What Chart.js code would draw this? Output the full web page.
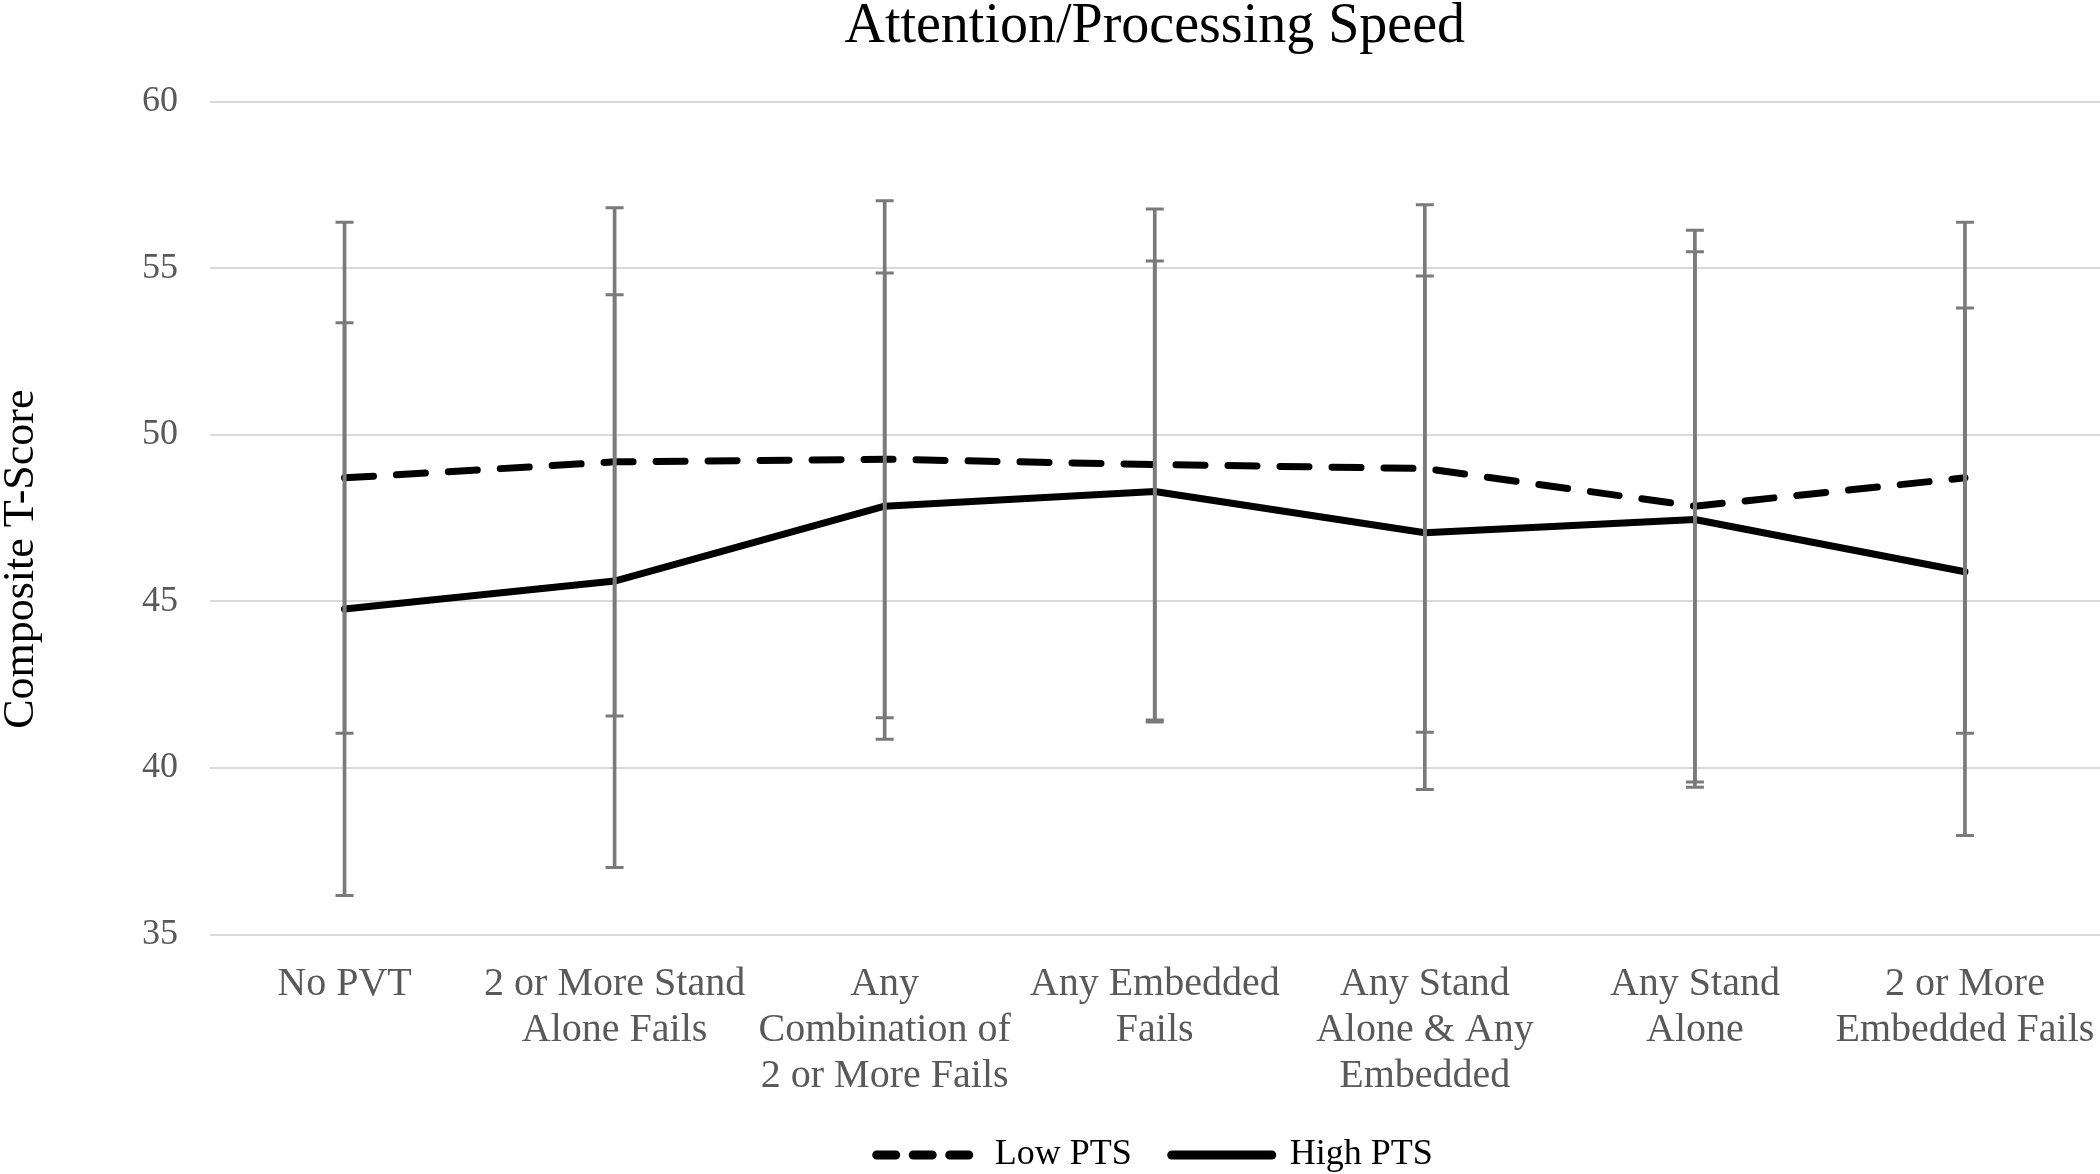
<!DOCTYPE html>
<html>
<head>
<meta charset="utf-8">
<script src="https://cdn.jsdelivr.net/npm/chart.js@4/dist/chart.umd.min.js"></script>
<style>
  html, body { margin: 0; padding: 0; background: #ffffff; }
  #wrap { width: 2100px; height: 1174px; position: relative; }
</style>
</head>
<body>
<div id="wrap"><canvas id="c" width="2100" height="1174"></canvas></div>
<script>
// ---------- data ----------
const categories = [
  'No PVT',
  ['2 or More Stand', 'Alone Fails'],
  ['Any', 'Combination of', '2 or More Fails'],
  ['Any Embedded', 'Fails'],
  ['Any Stand', 'Alone & Any', 'Embedded'],
  ['Any Stand', 'Alone'],
  ['2 or More', 'Embedded Fails']
];
const seriesNames = ['Low PTS', 'High PTS'];
const lowPTS  = [48.71, 49.19, 49.27, 49.11, 48.99, 47.86, 48.71];
const highPTS = [44.77, 45.61, 47.86, 48.30, 47.06, 47.46, 45.89];
const lowErr  = [7.67, 7.63, 7.76, 7.67, 7.92, 8.28, 7.67];
const highErr = [8.60, 8.60, 7.00, 6.92, 7.71, 8.04, 7.92];
const chartTitle = 'Attention/Processing Speed';
const yAxisTitle = 'Composite T-Score';
const yMin = 35, yMax = 60, yStep = 5;

// ---------- styling ----------
const FONT = "'Liberation Serif', 'Times New Roman', serif";
const ERR = '#7a7a7a';
const TXT = '#595959';

const lowBars  = lowPTS.map((m, i) => [m - lowErr[i], m + lowErr[i]]);
const highBars = highPTS.map((m, i) => [m - highErr[i], m + highErr[i]]);
const lowTop  = lowPTS.map((m, i) => m + lowErr[i]);
const lowBot  = lowPTS.map((m, i) => m - lowErr[i]);
const highTop = highPTS.map((m, i) => m + highErr[i]);
const highBot = highPTS.map((m, i) => m - highErr[i]);

function capSet(data) {
  return {
    type: 'line', label: '_cap', data: data, showLine: false,
    pointStyle: 'line', pointRadius: 9, pointHoverRadius: 9,
    pointBorderWidth: 3, pointBorderColor: ERR, pointBackgroundColor: ERR,
    order: 1
  };
}
function whiskerSet(data) {
  return {
    type: 'bar', label: '_whisker', data: data, backgroundColor: ERR,
    borderWidth: 0, barThickness: 3, grouped: false, order: 1
  };
}

const yTitlePlugin = {
  id: 'yTitle',
  afterDraw(chart) {
    const { ctx, chartArea } = chart;
    ctx.save();
    ctx.translate(21, (chartArea.top + chartArea.bottom) / 2 + 41);
    ctx.rotate(-Math.PI / 2);
    ctx.fillStyle = '#000000';
    ctx.font = "44px " + FONT;
    ctx.textAlign = 'center';
    ctx.textBaseline = 'middle';
    ctx.fillText(yAxisTitle, 0, 0);
    ctx.restore();
  }
};

new Chart(document.getElementById('c'), {
  type: 'line',
  data: {
    labels: categories,
    datasets: [
      {
        label: seriesNames[0], data: lowPTS, borderColor: '#000', backgroundColor: '#000',
        borderWidth: 7, borderDash: [29, 23], borderCapStyle: 'round', borderJoinStyle: 'round',
        pointRadius: 0, pointHoverRadius: 0, fill: false, tension: 0, order: 2
      },
      {
        label: seriesNames[1], data: highPTS, borderColor: '#000', backgroundColor: '#000',
        borderWidth: 7, borderCapStyle: 'round', borderJoinStyle: 'round',
        pointRadius: 0, pointHoverRadius: 0, fill: false, tension: 0, order: 2
      },
      whiskerSet(lowBars),
      whiskerSet(highBars),
      capSet(lowTop), capSet(lowBot), capSet(highTop), capSet(highBot)
    ]
  },
  options: {
    responsive: false,
    animation: false,
    devicePixelRatio: 1,
    layout: { autoPadding: false, padding: { left: 0, right: 0, top: 0, bottom: -9 } },
    plugins: {
      title: {
        display: true, text: chartTitle, color: '#000', fullSize: false,
        font: { family: FONT, size: 56, weight: 'normal', lineHeight: 0.8 },
        padding: { top: 5, bottom: 52 }
      },
      legend: {
        position: 'bottom', fullSize: false,
        labels: {
          usePointStyle: true, pointStyleWidth: 100, padding: 40, color: '#000',
          font: { family: FONT, size: 36 },
          generateLabels(chart) {
            const items = Chart.defaults.plugins.legend.labels.generateLabels(chart)
              .filter(it => it.datasetIndex < 2)
              .sort((a, b) => a.datasetIndex - b.datasetIndex);
            items.forEach(it => {
              it.lineWidth = 9; it.lineCap = 'round'; it.strokeStyle = '#000'; it.fillStyle = '#000';
              it.pointStyle = 'line'; it.fontColor = '#000';
              it.lineDash = it.datasetIndex === 0 ? [19, 17.5] : [];
            });
            return items;
          }
        }
      },
      tooltip: { enabled: false }
    },
    scales: {
      x: {
        offset: true,
        grid: { display: false, drawTicks: false },
        border: { display: false },
        ticks: {
          color: TXT, font: { family: FONT, size: 40, lineHeight: 1.15 },
          padding: 27, maxRotation: 0, minRotation: 0, autoSkip: false
        },
        afterFit(s) { s.height = 162.5; s.paddingLeft = 0; s.paddingRight = 0; }
      },
      y: {
        min: yMin, max: yMax,
        grid: { color: '#d9d9d9', lineWidth: 2, drawTicks: false },
        border: { display: false },
        ticks: { stepSize: yStep, color: TXT, font: { family: FONT, size: 36 }, padding: 31.5 },
        afterFit(s) { s.width = 209.5; s.paddingTop = 0; s.paddingBottom = 0; }
      }
    }
  },
  plugins: [yTitlePlugin]
});
</script>
</body>
</html>
